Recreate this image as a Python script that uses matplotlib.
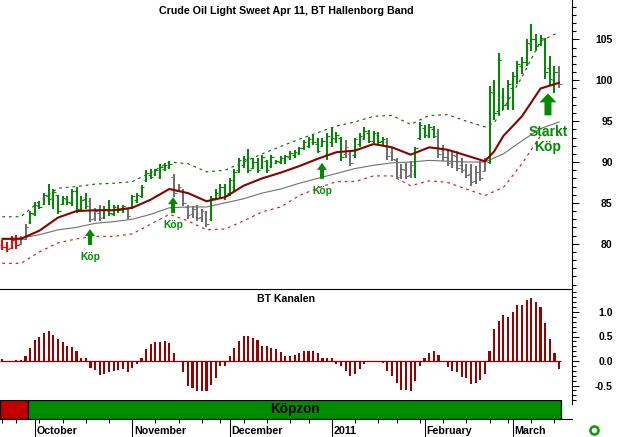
import matplotlib
matplotlib.use("Agg")
import matplotlib.pyplot as plt
import numpy as np
import pandas as pd
from matplotlib.ticker import FixedLocator, MultipleLocator, FuncFormatter
from matplotlib.patches import Rectangle
from matplotlib.lines import Line2D

plt.rcParams['font.family'] = ['Liberation Sans', 'DejaVu Sans']
plt.rcParams['axes.unicode_minus'] = False

# ---------------- data ----------------
holidays = ['2010-11-25', '2010-12-24', '2011-01-17', '2011-02-21']
dates = pd.bdate_range('2010-09-22', '2011-03-15')
dates = dates[~dates.isin(pd.to_datetime(holidays))]

highs = [80.4, 80.2, 80.9, 81.1, 80.9, 82.4, 84.0, 85.1, 85.2, 86.2,
         87.3, 86.7, 86.0, 85.8, 85.8, 86.7, 86.9, 85.8, 86.2, 85.6,
         84.4, 84.8, 84.6, 85.4, 84.8, 84.8, 84.8, 84.4, 86.0, 86.2,
         87.2, 89.0, 89.1, 89.2, 89.7, 89.9, 90.1, 88.5, 87.3, 86.7,
         84.8, 84.6, 84.8, 84.2, 84.0, 85.9, 86.7, 87.3, 87.3, 88.1,
         89.1, 90.5, 90.7, 91.6, 90.5, 90.5, 90.9, 90.3, 90.9, 90.3,
         90.7, 90.9, 91.3, 91.5, 91.9, 92.7, 93.1, 93.3, 92.9, 92.9,
         93.5, 94.2, 93.7, 93.1, 92.7, 91.5, 93.0, 93.5, 94.3, 93.9,
         93.8, 93.7, 93.1, 92.9, 91.7, 90.5, 89.7, 89.9, 90.1, 91.9,
         94.9, 94.5, 94.7, 94.4, 94.1, 92.1, 91.5, 91.3, 91.3, 90.5,
         89.7, 89.7, 89.5, 90.1, 90.5, 99.3, 100.0, 103.3, 99.0, 100.0,
         101.0, 102.4, 102.8, 105.0, 106.9, 105.7, 105.5, 105.2, 103.0, 101.7,
         101.8]
lows = [79.2, 79.0, 79.4, 79.4, 79.8, 80.4, 82.4, 83.4, 84.2, 84.8,
        84.8, 84.2, 83.6, 84.8, 84.8, 84.6, 83.8, 84.0, 84.2, 82.6,
        82.8, 82.8, 83.0, 83.4, 83.4, 83.8, 83.8, 83.0, 84.2, 85.0,
        85.6, 87.6, 87.9, 88.3, 87.9, 88.9, 89.1, 85.7, 86.3, 84.6,
        83.0, 83.2, 82.8, 82.6, 82.0, 82.8, 85.3, 85.5, 85.3, 85.9,
        86.5, 88.7, 89.3, 88.7, 89.1, 88.7, 89.1, 88.7, 89.3, 89.7,
        89.7, 89.7, 90.3, 90.5, 90.9, 91.5, 91.7, 92.1, 91.1, 91.9,
        90.3, 91.9, 92.3, 90.1, 90.5, 89.5, 90.5, 91.9, 92.7, 92.3,
        92.3, 92.1, 92.1, 90.3, 90.1, 87.9, 87.9, 87.9, 88.1, 88.1,
        92.7, 92.9, 92.9, 92.9, 90.5, 90.1, 89.5, 89.3, 88.9, 88.7,
        88.1, 87.1, 87.3, 87.7, 88.9, 89.7, 95.2, 95.8, 96.4, 96.4,
        96.4, 99.6, 100.8, 101.8, 103.6, 103.6, 104.2, 100.2, 99.4, 98.5,
        99.0]
opens = [79.8, 79.6, 79.5, 80.4, 80.0, 80.6, 82.6, 83.7, 84.6, 84.9,
         85.8, 85.6, 86.0, 84.9, 85.5, 85.0, 86.4, 84.3, 85.5, 85.2,
         83.2, 83.8, 83.3, 84.1, 83.7, 84.3, 84.2, 84.2, 84.4, 85.3,
         85.9, 87.8, 88.4, 88.5, 88.2, 89.2, 89.4, 88.2, 86.5, 86.4,
         84.5, 83.6, 84.3, 83.3, 83.8, 83.0, 85.5, 86.0, 87.0, 86.2,
         87.0, 89.0, 89.6, 90.2, 89.3, 90.0, 89.3, 90.1, 89.5, 89.9,
         90.0, 90.3, 90.6, 90.8, 91.1, 91.7, 92.0, 92.5, 92.2, 92.0,
         91.0, 92.5, 92.8, 92.9, 91.0, 91.0, 90.8, 92.2, 93.0, 93.6,
         92.6, 93.3, 92.6, 92.5, 91.2, 90.2, 88.4, 89.0, 88.4, 88.5,
         93.0, 94.2, 93.2, 94.0, 93.5, 91.3, 90.6, 90.0, 90.7, 89.6,
         89.2, 88.5, 87.7, 88.8, 88.9, 90.0, 98.4, 96.2, 98.0, 97.0,
         99.0, 100.5, 101.8, 102.3, 104.5, 105.0, 104.4, 105.0, 101.5, 100.0,
         101.0]
closes = [79.6, 79.4, 80.5, 79.9, 80.6, 82.0, 83.8, 84.8, 84.5, 86.0,
          85.5, 86.3, 84.0, 85.6, 85.1, 86.5, 84.2, 85.4, 84.6, 83.0,
          84.0, 83.2, 84.3, 83.8, 84.5, 84.1, 84.6, 83.4, 85.8, 86.0,
          87.0, 88.6, 88.2, 89.0, 89.4, 89.6, 89.8, 86.2, 87.0, 85.0,
          83.5, 84.2, 83.1, 84.0, 82.4, 85.6, 86.2, 87.0, 85.8, 87.8,
          88.8, 90.2, 90.4, 89.0, 90.0, 89.0, 90.6, 89.0, 90.6, 90.1,
          90.5, 90.7, 91.1, 91.2, 91.7, 92.4, 92.8, 92.4, 91.4, 92.6,
          93.2, 93.0, 93.3, 90.6, 91.8, 89.9, 92.8, 93.2, 93.8, 92.6,
          93.5, 92.4, 92.8, 90.7, 90.4, 88.2, 89.2, 88.3, 89.6, 91.7,
          94.5, 93.3, 94.3, 93.2, 91.0, 90.6, 89.9, 90.9, 89.3, 89.0,
          88.4, 87.6, 88.8, 88.0, 90.1, 98.6, 96.0, 102.5, 97.0, 99.5,
          100.5, 102.0, 102.3, 104.6, 105.0, 104.2, 105.2, 101.0, 100.2, 101.0,
          99.5]
# R = sell (red), g = neutral (grey), G = buy (green)
bar_state = ("RRRRgg"
             "GGGGGGGGGGGGG"
             "ggg"
             "GGGGG"
             "g"
             "GGGGGGGGG"
             "gggggggg"
             "GGGGGGGGGGGGGGGGGGGGGGGGGGGGG"
             "gg"
             "GGGGGGG"
             "gggggg"
             "GGGGG"
             "ggggggggggg"
             "GGGGGGGGGGGGGGG"
             "g")

# Hallenborg band lines (bar index, price)
ma_idx = [0, 4, 8, 12, 16, 20, 24, 28, 32, 36, 40, 44, 48, 52, 56, 60, 64, 68, 72, 76,
          80, 84, 88, 92, 96, 100, 104, 106, 108, 112, 116, 120]
ma_val = [80.6, 80.6, 81.6, 83.2, 84.0, 84.1, 84.1, 84.4, 85.4, 86.7, 86.2, 85.2, 85.7, 87.1,
          88.0, 88.7, 89.5, 90.4, 91.2, 91.4, 92.2, 91.8, 90.9, 91.8, 91.5, 90.8, 90.1, 91.3,
          93.2, 95.6, 99.0, 99.7]
mid_idx = [0, 4, 8, 12, 16, 20, 24, 28, 32, 36, 40, 44, 48, 52, 56, 60, 64, 68, 72, 76,
           80, 84, 88, 92, 96, 100, 104, 108, 112, 116, 120]
mid_val = [80.6, 80.7, 81.1, 81.7, 82.0, 82.5, 82.7, 83.0, 83.6, 84.4, 84.5, 84.5, 85.0, 85.5,
           86.2, 86.7, 87.4, 88.0, 88.6, 89.2, 89.6, 89.9, 90.0, 90.2, 90.1, 90.0, 90.0, 91.0,
           92.6, 94.1, 94.9]
up_idx = [0, 4, 8, 12, 16, 20, 24, 28, 32, 36, 40, 44, 48, 52, 56, 60, 64, 68, 72, 76,
          80, 84, 88, 92, 96, 100, 104, 106, 108, 112, 116, 120]
up_val = [83.3, 83.3, 85.2, 86.8, 87.0, 87.3, 87.4, 87.6, 88.7, 90.0, 89.8, 88.8, 89.0, 90.0,
          91.0, 91.9, 92.8, 93.6, 94.4, 94.9, 95.6, 95.7, 94.6, 95.7, 95.8, 95.0, 94.3, 94.8,
          96.5, 100.4, 104.8, 105.9]
lo_idx = [0, 4, 8, 12, 16, 20, 24, 28, 32, 36, 40, 44, 48, 52, 56, 60, 64, 68, 72, 76,
          80, 84, 88, 92, 96, 100, 104, 108, 112, 116, 120]
lo_val = [77.6, 77.6, 79.0, 80.1, 80.6, 80.9, 80.9, 81.2, 82.4, 83.6, 82.8, 81.7, 81.8, 82.8,
          83.9, 84.5, 85.9, 86.8, 87.6, 87.6, 88.3, 88.3, 87.1, 87.7, 87.5, 86.7, 85.9, 86.9,
          89.8, 93.2, 93.3]

# BT Kanalen oscillator
osc = [0.04, -0.02, -0.01, 0.03, 0.03, 0.11, 0.27, 0.43, 0.48, 0.58,
       0.62, 0.53, 0.45, 0.39, 0.31, 0.29, 0.21, 0.07, 0.07, -0.15,
       -0.19, -0.28, -0.27, -0.23, -0.20, -0.19, -0.17, -0.22, -0.14, -0.07,
       0.07, 0.24, 0.34, 0.39, 0.39, 0.41, 0.37, 0.16, 0.01, -0.23,
       -0.50, -0.56, -0.61, -0.62, -0.61, -0.49, -0.34, -0.11, -0.10, 0.11,
       0.27, 0.41, 0.52, 0.52, 0.47, 0.42, 0.31, 0.30, 0.26, 0.24,
       0.19, 0.11, 0.11, 0.13, 0.17, 0.21, 0.21, 0.21, 0.16, 0.06,
       0.07, 0.06, -0.07, -0.10, -0.20, -0.31, -0.27, -0.16, -0.07, -0.03,
       0.01, -0.02, -0.05, -0.21, -0.30, -0.44, -0.59, -0.60, -0.62, -0.40,
       -0.11, 0.07, 0.17, 0.21, 0.12, -0.02, -0.12, -0.20, -0.22, -0.32,
       -0.35, -0.46, -0.45, -0.38, -0.26, 0.20, 0.65, 0.82, 0.94, 0.90,
       0.99, 1.14, 1.14, 1.25, 1.29, 1.20, 1.10, 0.78, 0.45, 0.16,
       -0.16]

# signals: (bar position, arrow tip price, label, size)
sig_pos = [18.9, 36.8, 68.9, 117.6]
sig_price = [81.8, 85.7, 89.9, 98.4]
sig_text = ['Köp', 'Köp', 'Köp', 'Starkt\nKöp']
sig_big = [False, False, False, True]

# zones: (label, first bar, last bar)
zones = [('', 0, 5, 'sell'), ('Köpzon', 6, 120, 'buy')]
month_labels = ['October', 'November', 'December', '2011', 'February', 'March']

title = 'Crude Oil Light Sweet Apr 11, BT Hallenborg Band'
osc_title = 'BT Kanalen'

# ---------------- style ----------------
GREEN = '#008C00'
GREY = '#707070'
RED = '#FF0000'
DARKRED = '#8C0000'
OSCRED = '#990000'
state_color = {'R': RED, 'g': GREY, 'G': GREEN}
zone_color = {'sell': '#C00000', 'buy': '#008C00'}

W, H, DPI = 619, 437, 100
fig = plt.figure(figsize=(W / DPI, H / DPI), dpi=DPI, facecolor='white')


def fpos(x0, y0, x1, y1):
    return [x0 / W, 1 - y1 / H, (x1 - x0) / W, (y1 - y0) / H]


n = len(highs)
assert len(bar_state) == n and len(lows) == n and len(osc) == n and len(dates) == n
idx = np.arange(n)
XL = (-0.496, 122.78)
PX = 100 / 72.0  # pixels per point

ax = fig.add_axes(fpos(0, 0, 572, 289))
ax2 = fig.add_axes(fpos(0, 289, 572, 404))
ax3 = fig.add_axes(fpos(0, 400, 572, 419))
ax3.set_zorder(5)

for a in (ax, ax2, ax3):
    a.set_xlim(*XL)
    a.set_facecolor('none')

# ---------------- main price panel ----------------
ax.set_ylim(74.46, 109.83)
cols = [state_color[s] for s in bar_state]
ax.plot(lo_idx, lo_val, color=RED, lw=0.8, linestyle=(0, (2.5, 3.5)), zorder=2)
ax.plot(up_idx, up_val, color='#006400', lw=0.8, linestyle=(0, (2.5, 3.5)), zorder=2)
ax.plot(mid_idx, mid_val, color='#707070', lw=0.8, zorder=2)
ax.vlines(idx, lows, highs, colors=cols, lw=1.45, zorder=3)
ax.hlines(opens, idx - 0.55, idx, colors=cols, lw=0.8, zorder=3)
ax.hlines(closes, idx, idx + 0.55, colors=cols, lw=0.8, zorder=3)
ax.plot(ma_idx, ma_val, color=DARKRED, lw=1.5, zorder=4, solid_capstyle='round')

for p, pr, t, big in zip(sig_pos, sig_price, sig_text, sig_big):
    if big:
        L, hl, hw, tw, fs, dy = 22, 9, 17, 7, 10, 46
    else:
        L, hl, hw, tw, fs, dy = 16, 7, 10, 4, 7.4, 28
    ax.annotate('', xy=(p, pr), xytext=(0, -L), textcoords='offset pixels',
                arrowprops=dict(arrowstyle=f'simple,head_length={hl / PX},head_width={hw / PX},tail_width={tw / PX}',
                                mutation_scale=1, fc=GREEN, ec=GREEN, lw=0, shrinkA=0, shrinkB=0),
                zorder=6)
    ax.annotate(t, xy=(p, pr), xytext=(0, -dy), textcoords='offset pixels',
                ha='center', va='center', fontsize=fs, fontweight='bold', color=GREEN,
                linespacing=1.1, zorder=6)

ax.text(0.5, 1 - 10.5 / 289, title, transform=ax.transAxes, ha='center', va='center',
        fontsize=7.7, fontweight='bold', color='black')

for s in ('left', 'top'):
    ax.spines[s].set_visible(False)
for s in ('right', 'bottom'):
    ax.spines[s].set_linewidth(0.8)
ax.set_xticks([])
ax.yaxis.tick_right()
ax.yaxis.set_major_locator(FixedLocator([80, 85, 90, 95, 100, 105]))
ax.yaxis.set_minor_locator(MultipleLocator(1))
ax.yaxis.set_major_formatter(FuncFormatter(lambda v, p: f'{v:.0f}'))
ax.tick_params(axis='y', which='major', length=4.8, width=0.75, pad=24.5, labelsize=7.5)
ax.tick_params(axis='y', which='minor', length=2.9, width=0.75)
for lbl in ax.get_yticklabels():
    lbl.set_ha('right')
    lbl.set_fontweight('bold')

# ---------------- oscillator panel ----------------
ax2.set_ylim(-(404 - 361) / 49, (361 - 289) / 49)
ax2.bar(idx, osc, width=0.45, color=OSCRED, zorder=3)
ax2.hlines(0, -0.5, n - 0.5, color=OSCRED, lw=0.9, zorder=3)
ax2.text(0.5, 1 - 10 / 115, osc_title, transform=ax2.transAxes, ha='center', va='center',
         fontsize=7.6, fontweight='bold')
for s in ('left', 'top', 'bottom'):
    ax2.spines[s].set_visible(False)
ax2.spines['right'].set_linewidth(0.8)
ax2.set_xticks([])
ax2.yaxis.tick_right()
ax2.yaxis.set_major_locator(FixedLocator([-0.5, 0.0, 0.5, 1.0]))
ax2.yaxis.set_minor_locator(MultipleLocator(0.1))
ax2.yaxis.set_major_formatter(FuncFormatter(lambda v, p: f'{v:.1f}'))
ax2.tick_params(axis='y', which='major', length=4.8, width=0.75, pad=24.5, labelsize=7.5)
ax2.tick_params(axis='y', which='minor', length=2.9, width=0.75)
for lbl in ax2.get_yticklabels():
    lbl.set_ha('right')
    lbl.set_fontweight('bold')

# ---------------- zone bar + date axis ----------------
ax3.set_ylim(0, 1)
for label, a, b, kind in zones:
    ax3.add_patch(Rectangle((a - 0.5, 0), (b - a + 1), 1, facecolor=zone_color[kind],
                            edgecolor='black', lw=0.9, zorder=2))
    if label:
        ax3.text((a + b) / 2, 0.5, label, ha='center', va='center', fontsize=9.8,
                 fontweight='bold', color='black', zorder=3)
for s in ('left', 'top', 'right'):
    ax3.spines[s].set_visible(False)
ax3.spines['bottom'].set_linewidth(0.8)
ax3.set_yticks([])

month_idx = [i for i in range(1, n) if dates[i].month != dates[i - 1].month]
week_idx = [0] + [i for i in range(1, n)
                  if dates[i].isocalendar()[1] != dates[i - 1].isocalendar()[1]]
ax3.set_xticks(month_idx)
ax3.set_xticks(week_idx, minor=True)
ax3.tick_params(axis='x', which='major', length=13, width=0.75, labelbottom=False)
ax3.tick_params(axis='x', which='minor', length=2.9, width=0.75, labelbottom=False)
for i, lab in zip(month_idx, month_labels):
    ax3.annotate(lab, xy=(i, 0), xycoords=('data', 'axes fraction'), xytext=(2, -12),
                 textcoords='offset pixels', ha='left', va='center', fontsize=7.7,
                 fontweight='bold', annotation_clip=False)

# small green status ring at bottom right
fig.add_artist(Line2D([594 / W], [1 - 430 / H], marker='o', markersize=5.8,
                      markerfacecolor='white', markeredgecolor='#00A000',
                      markeredgewidth=1.8, transform=fig.transFigure))

fig.savefig('out.png', dpi=DPI, facecolor='white')
